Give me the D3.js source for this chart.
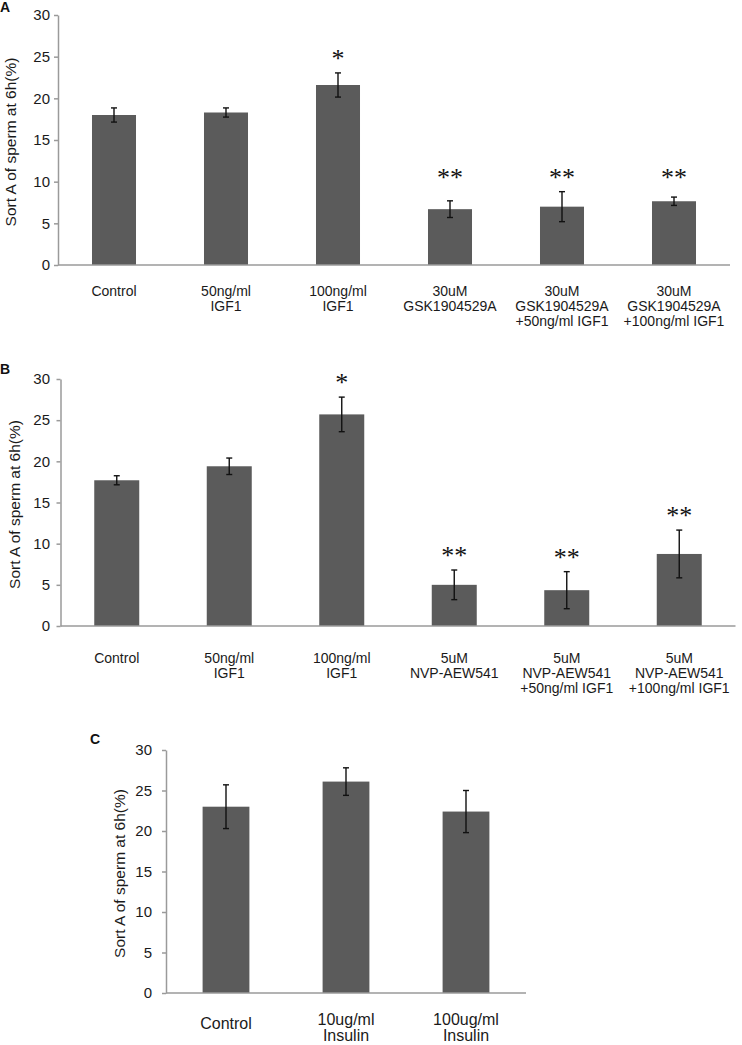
<!DOCTYPE html>
<html><head><meta charset="utf-8">
<script src="https://cdn.jsdelivr.net/npm/d3@7"></script>
<style>
html,body{margin:0;padding:0;background:#fff;}
svg{display:block;font-family:"Liberation Sans",Arial,sans-serif;}
</style></head>
<body>
<svg id="chart" width="742" height="1045"></svg>
<script>
// ---- data ----
const yTicks = [0, 5, 10, 15, 20, 25, 30];
const yTitle = "Sort A of sperm at 6h(%)";

const catsA = [["Control"], ["50ng/ml", "IGF1"], ["100ng/ml", "IGF1"], ["30uM", "GSK1904529A"],
  ["30uM", "GSK1904529A", "+50ng/ml IGF1"], ["30uM", "GSK1904529A", "+100ng/ml IGF1"]];
const valsA = [18.0, 18.3, 21.6, 6.7, 7.0, 7.65];
const errsA = [0.85, 0.55, 1.45, 1.0, 1.8, 0.5];
const sigA = ["", "", "*", "**", "**", "**"];

const catsB = [["Control"], ["50ng/ml", "IGF1"], ["100ng/ml", "IGF1"], ["5uM", "NVP-AEW541"],
  ["5uM", "NVP-AEW541", "+50ng/ml IGF1"], ["5uM", "NVP-AEW541", "+100ng/ml IGF1"]];
const valsB = [17.7, 19.4, 25.7, 5.0, 4.35, 8.75];
const errsB = [0.55, 1.0, 2.1, 1.8, 2.25, 2.9];
const sigB = ["", "", "*", "**", "**", "**"];

const catsC = [["Control"], ["10ug/ml", "Insulin"], ["100ug/ml", "Insulin"]];
const valsC = [23.0, 26.1, 22.4];
const errsC = [2.7, 1.7, 2.6];
const sigC = ["", "", ""];

// ---- layout ----
const panels = [
  {letter: "A", cats: catsA, vals: valsA, errs: errsA, sig: sigA,
   x0: 58, x1: 730, yTop: 15, yBot: 265, pad: 0.607, tickPad: 4,
   letterX: 0, letterY: 12, titleX: 16, labelDy: 31, lineH: 15, labelFs: 14, singleShift: 0,
   alignStars: true},
  {letter: "B", cats: catsB, vals: valsB, errs: errsB, sig: sigB,
   x0: 60.5, x1: 735.5, yTop: 379, yBot: 626, pad: 0.6, tickPad: 6.5,
   letterX: 0, letterY: 374, titleX: 20, labelDy: 37, lineH: 15, labelFs: 14, singleShift: 0,
   alignStars: false},
  {letter: "C", cats: catsC, vals: valsC, errs: errsC, sig: sigC,
   x0: 166, x1: 526, yTop: 750, yBot: 993, pad: 0.61, tickPad: 10,
   letterX: 90, letterY: 744, titleX: 125, labelDy: 32, lineH: 16, labelFs: 16, singleShift: 4,
   alignStars: false}
];

const svg = d3.select("#chart");
const axisColor = "#9a9a9a";
const barColor = "#5b5b5b";

panels.forEach(p => {
  const g = svg.append("g");
  const idx = d3.range(p.vals.length);
  const x = d3.scaleBand().domain(idx).range([p.x0, p.x1]).paddingInner(p.pad).paddingOuter(p.pad / 2);
  const y = d3.scaleLinear().domain([0, 30]).range([p.yBot, p.yTop]);

  // bars
  g.selectAll("rect.bar").data(idx).join("rect")
    .attr("x", i => x(i)).attr("width", x.bandwidth())
    .attr("y", i => y(p.vals[i])).attr("height", i => y(0) - y(p.vals[i]))
    .attr("fill", barColor);

  // x axis line
  g.append("line").attr("x1", p.x0).attr("x2", p.x1).attr("y1", y(0)).attr("y2", y(0))
    .attr("stroke", axisColor).attr("stroke-width", 1.5);

  // y axis
  const ax = g.append("g").attr("transform", `translate(${p.x0},0)`)
    .call(d3.axisLeft(y).tickValues(yTicks).tickSize(4).tickSizeOuter(0).tickPadding(p.tickPad));
  ax.select(".domain").attr("stroke", axisColor).attr("stroke-width", 1.5);
  ax.selectAll(".tick line").attr("stroke", axisColor).attr("stroke-width", 1.5);
  ax.selectAll(".tick text").attr("fill", "#1a1a1a").style("font-size", "15px")
    .style("font-family", "'Liberation Sans',Arial,sans-serif");

  // error bars
  const cx = i => x(i) + x.bandwidth() / 2;
  const eb = g.selectAll("g.err").data(idx).join("g").attr("stroke", "#111").attr("stroke-width", 1.4);
  eb.append("line").attr("x1", cx).attr("x2", cx)
    .attr("y1", i => y(p.vals[i] + p.errs[i])).attr("y2", i => y(p.vals[i] - p.errs[i]));
  eb.append("line").attr("x1", i => cx(i) - 3).attr("x2", i => cx(i) + 3)
    .attr("y1", i => y(p.vals[i] + p.errs[i])).attr("y2", i => y(p.vals[i] + p.errs[i]));
  eb.append("line").attr("x1", i => cx(i) - 3).attr("x2", i => cx(i) + 3)
    .attr("y1", i => y(p.vals[i] - p.errs[i])).attr("y2", i => y(p.vals[i] - p.errs[i]));

  // significance stars
  const starTop = i => {
    if (p.alignStars && p.sig[i] === "**") {
      const m = d3.max(idx.filter(j => p.sig[j] === "**"), j => p.vals[j] + p.errs[j]);
      return y(m);
    }
    return y(p.vals[i] + p.errs[i]);
  };
  g.selectAll("text.sig").data(idx.filter(i => p.sig[i])).join("text")
    .attr("x", cx).attr("y", i => starTop(i) - 17 + 11)
    .attr("text-anchor", "middle")
    .style("font-family", "'Liberation Serif','Times New Roman',serif")
    .style("font-size", "26px").attr("fill", "#111")
    .text(i => p.sig[i]);

  // category labels
  const lab = g.selectAll("g.lab").data(idx).join("g")
    .attr("transform", i => {
      const shift = p.cats[i].length === 1 ? p.singleShift : 0;
      return `translate(${cx(i)},${y(0) + p.labelDy + shift})`;
    });
  lab.each(function (i) {
    d3.select(this).selectAll("text").data(p.cats[i]).join("text")
      .attr("x", 0).attr("y", (d, k) => k * p.lineH)
      .attr("text-anchor", "middle").attr("fill", "#1a1a1a")
      .style("font-size", p.labelFs + "px").text(d => d);
  });

  // y title
  g.append("text")
    .attr("transform", `translate(${p.titleX},${(p.yTop + p.yBot) / 2 + 2}) rotate(-90)`)
    .attr("text-anchor", "middle").attr("fill", "#1a1a1a")
    .style("font-size", "15.5px").text(yTitle);

  // panel letter
  g.append("text").attr("x", p.letterX).attr("y", p.letterY)
    .style("font-weight", "bold").style("font-size", "14px").attr("fill", "#111")
    .text(p.letter);
});
</script>
</body></html>
